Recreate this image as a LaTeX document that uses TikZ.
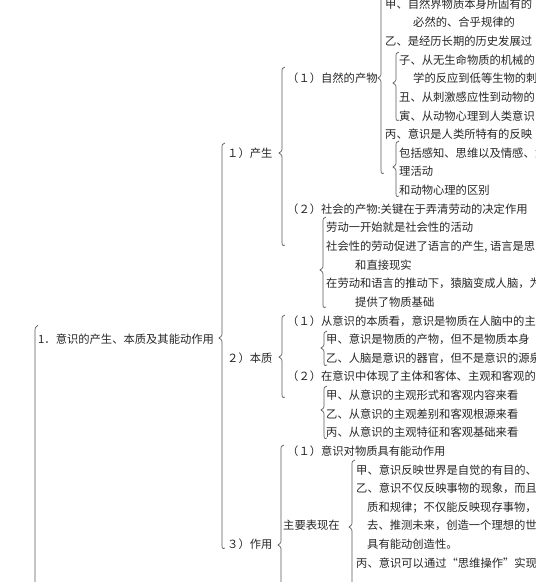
\documentclass[tikz,border=0pt]{standalone}
\usepackage{fontspec}
\newfontfamily\cjk{Noto Sans CJK SC}
\usepackage{tikz}
\usetikzlibrary{positioning}

% curly brace: x, top, tip, bottom (y counted downwards)
\newcommand{\cbrace}[4]{%
  \draw[brc] ({#1+3},{-(#2)}) .. controls ({#1},{-(#2)-1}) .. ({#1},{-(#2)-6})
    -- ({#1},{-(#3)+6}) .. controls ({#1},{-(#3)+2}) .. ({#1-3},{-(#3)})
    .. controls ({#1},{-(#3)-2}) .. ({#1},{-(#3)-6})
    -- ({#1},{-(#4)+6}) .. controls ({#1},{-(#4)-1}) .. ({#1+3},{-(#4)});}

\begin{document}
\begin{tikzpicture}[x=1pt, y=1pt, declare function={ly(\i)=-(8.3+18.63*\i);}]
		\tikzstyle{txt}=[anchor=base west, inner sep=0pt, font=\cjk\fontsize{11.3}{13}\selectfont, text=black!85]
		\tikzstyle{brc}=[draw=black!65, line width=0.7pt]

		\useasboundingbox (0,0) rectangle (536,-582);
		\clip (0,0) rectangle (536,-582);

		% root
		\node[txt] (R) at (38,{ly(18)}) {1．意识的产生、本质及其能动作用};
		\node[txt] (P1) at (227,{ly(8)}) {１）产生};
		\node[txt] (P2) at (227,{ly(19)}) {２）本质};
		\node[txt] (P3) at (227,{ly(29)}) {３）作用};

		% 1) 产生
		\node[txt] (N1) at (287,{ly(4)}) {（１）自然的产物};
		\node[txt] (A0) at (385,{ly(0)}) {甲、自然界物质本身所固有的};
		\node[txt] (A1) at (413,{ly(1)}) {必然的、合乎规律的};
		\node[txt] (A2) at (385,{ly(2)}) {乙、是经历长期的历史发展过};
		\node[txt] (A3) at (399,{ly(3)}) {子、从无生命物质的机械的};
		\node[txt] (A4) at (413,{ly(4)}) {学的反应到低等生物的刺};
		\node[txt] (A5) at (399,{ly(5)}) {丑、从刺激感应性到动物的};
		\node[txt] (A6) at (399,{ly(6)}) {寅、从动物心理到人类意识};
		\node[txt] (A7) at (385,{ly(7)}) {丙、意识是人类所特有的反映};
		\node[txt] (A8) at (399,{ly(8)}) {包括感知、思维以及情感、意};
		\node[txt] (A9) at (399,{ly(9)}) {理活动};
		\node[txt] (A10) at (399,{ly(10)}) {和动物心理的区别};
		\node[txt] (N2) at (287,{ly(11)}) {（２）社会的产物:关键在于弄清劳动的决定作用};
		\node[txt] (B1) at (326,{ly(12)}) {劳动一开始就是社会性的活动};
		\node[txt] (B2) at (326,{ly(13)}) {社会性的劳动促进了语言的产生, 语言是思};
		\node[txt] (B3) at (355,{ly(14)}) {和直接现实};
		\node[txt] (B4) at (326,{ly(15)}) {在劳动和语言的推动下，猿脑变成人脑，为};
		\node[txt] (B5) at (355,{ly(16)}) {提供了物质基础};

		% 2) 本质
		\node[txt] (N3) at (287,{ly(17)}) {（１）从意识的本质看，意识是物质在人脑中的主};
		\node[txt] (C1) at (326,{ly(18)}) {甲、意识是物质的产物，但不是物质本身};
		\node[txt] (C2) at (326,{ly(19)}) {乙、人脑是意识的器官，但不是意识的源泉};
		\node[txt] (N4) at (287,{ly(20)}) {（２）在意识中体现了主体和客体、主观和客观的};
		\node[txt] (D1) at (326,{ly(21)}) {甲、从意识的主观形式和客观内容来看};
		\node[txt] (D2) at (326,{ly(22)}) {乙、从意识的主观差别和客观根源来看};
		\node[txt] (D3) at (326,{ly(23)}) {丙、从意识的主观特征和客观基础来看};

		% 3) 作用
		\node[txt] (N5) at (287,{ly(24)}) {（１）意识对物质具有能动作用};
		\node[txt] (N6) at (283,{ly(28)}) {主要表现在};
		\node[txt] (E1) at (356,{ly(25)}) {甲、意识反映世界是自觉的有目的、};
		\node[txt] (E2) at (356,{ly(26)}) {乙、意识不仅反映事物的现象，而且};
		\node[txt] (E3) at (367,{ly(27)}) {质和规律；不仅能反映现存事物，};
		\node[txt] (E4) at (367,{ly(28)}) {去、推测未来，创造一个理想的世};
		\node[txt] (E5) at (367,{ly(29)}) {具有能动创造性。};
		\node[txt] (E6) at (356,{ly(30)}) {丙、意识可以通过“思维操作”实现};

		% braces
		\draw[brc] (38,-325) .. controls (35,-327) .. (35,-334) -- (35,-600);
		\cbrace{222}{143}{338}{548}
		\cbrace{282}{67}{153}{245}
		\cbrace{381}{-20}{78}{173}
		\cbrace{396}{52}{83}{120}
		\cbrace{396}{141}{167}{196}
		\cbrace{323}{217}{270}{307}
		\cbrace{282}{315}{357}{397}
		\cbrace{324}{331}{348}{365}
		\cbrace{324}{386}{410}{438}
		\cbrace{281}{445}{545}{620}
		\cbrace{352}{460}{527}{620}
	\end{tikzpicture}
\end{document}
